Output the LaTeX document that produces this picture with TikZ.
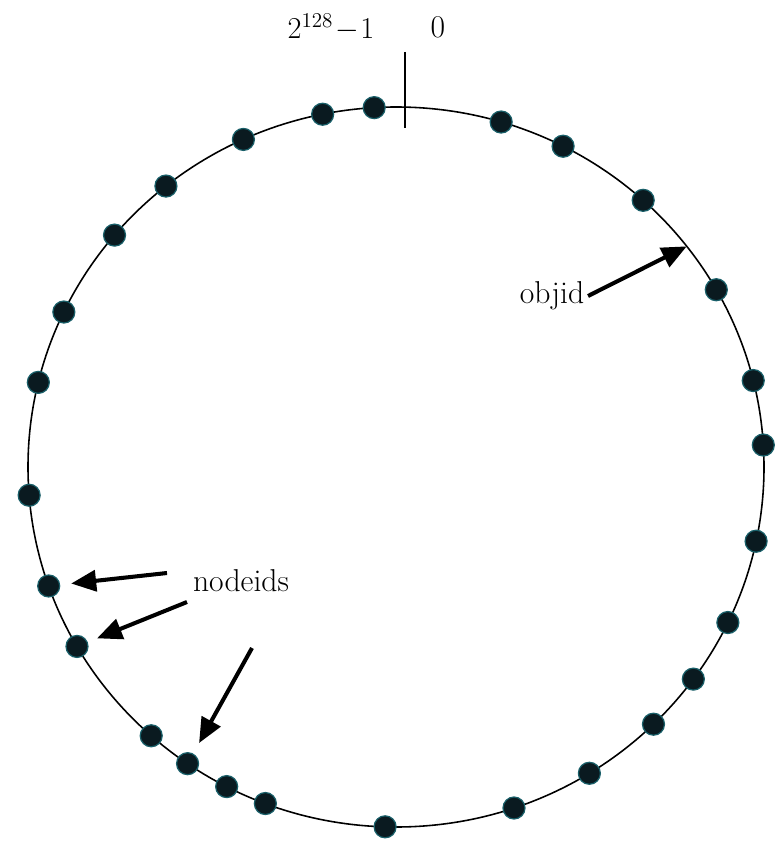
\documentclass[tikz,border=0pt]{standalone}
\usetikzlibrary{arrows.meta}
\definecolor{dotcol}{RGB}{10,26,32}
\definecolor{dotedge}{RGB}{25,95,105}
\tikzset{
  nodept/.style={circle,inner sep=0pt,minimum size=0.44cm,fill=dotcol,draw=dotedge,line width=0.7pt},
  ptr/.style={line width=2.3pt,-{Triangle[length=0.5cm,width=0.42cm]}},
  lbl/.style={font=\fontsize{18}{21}\selectfont,inner sep=2pt}
}
\begin{document}
\begin{tikzpicture}
  \useasboundingbox (0,0) rectangle (15.5,-16.84);
  \coordinate (c) at (7.92,-9.34);
  % ring of ids
  \draw[line width=0.9pt] (c) ellipse (7.36cm and 7.2cm);
  % zero mark
  \coordinate (t1) at (8.1,-1.04);\coordinate (t2) at (8.1,-2.56);
  \draw[line width=0.9pt] (t1) -- (t2);
  \node[lbl] (zero) at (8.76,-0.55) {0};
  \node[lbl] (maxid) at (6.62,-0.55) {$2^{128}\!-\!1$};
  % node ids on the ring
  \foreach \a [count=\i] in {93.4,101.5,114.5,128.7,139.9,154.5,166.4,184.5,199.3,209.9,
      228.3,235.5,242.6,249.2,268.3,288.7,301.7,314.4,323.9,334.4,348.1,3.5,13.9,29.5,47.8,63,73.4}
    \node[nodept] (d\i) at ([shift={(\a:7.36cm and 7.2cm)}]c) {};
  % object id
  \coordinate (objpt) at ([shift={(37.8:7.36cm and 7.2cm)}]c);
  \node[lbl] (objid) at (11.04,-5.92) {objid};
  \draw[ptr] (objid.east) -- (objpt);
  % pointers to node ids
  \node[lbl] (nodeids) at (4.82,-11.62) {nodeids};
  \coordinate (n1) at (3.34,-11.46);
  \coordinate (n2) at (3.74,-12.04);
  \coordinate (n3) at (5.04,-12.96);
  \draw[ptr,shorten >=0.22cm] (n1) -- (d9);
  \draw[ptr,shorten >=0.2cm] (n2) -- (d10);
  \draw[ptr,shorten >=0.24cm] (n3) -- (d12);
\end{tikzpicture}
\end{document}
